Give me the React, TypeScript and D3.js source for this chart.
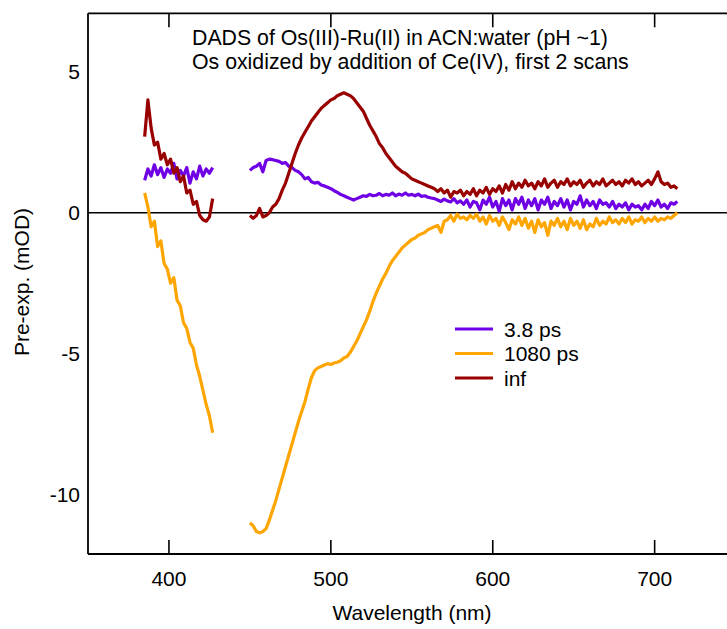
import React from "react";
import * as d3 from "d3";

// ---- data ----
const titleLines = [
  "DADS of Os(III)-Ru(II) in ACN:water (pH ~1)",
  "Os oxidized by addition of Ce(IV), first 2 scans",
];
const xTicks = [400, 500, 600, 700];
const yTicks = [5, 0, -5, -10];
const seriesNames = ["3.8 ps", "1080 ps", "inf"];
const seriesColors = ["#6F00E6", "#FFA500", "#990000"];

// wavelength grids (nm) of the two measured windows
const wlA = d3.range(385, 428, 2);
const wlB = d3.range(450, 715, 2);

const purpleA = [1.15, 1.55, 1.3, 1.7, 1.35, 1.6, 1.25, 1.55, 1.4, 1.75, 1.2, 1.5, 1.3, 1.6, 1.05, 1.45, 1.2, 1.65, 1.3, 1.55, 1.4, 1.6];
const purpleB = [
  1.5, 1.6, 1.65, 1.75, 1.45, 1.85, 1.9, 1.88, 1.85, 1.82,
  1.75, 1.78, 1.65, 1.6, 1.5, 1.45, 1.35, 1.2, 1.25, 1.1,
  1.05, 1.08, 0.98, 0.95, 0.9, 0.85, 0.78, 0.72, 0.65, 0.6,
  0.55, 0.5, 0.45, 0.5, 0.55, 0.6, 0.58, 0.65, 0.6, 0.62,
  0.68, 0.6, 0.65, 0.62, 0.7, 0.6, 0.66, 0.62, 0.7, 0.62,
  0.65, 0.6, 0.66, 0.58, 0.6, 0.55, 0.52, 0.5, 0.45, 0.4,
  0.48, 0.42, 0.38, 0.5, 0.35, 0.42, 0.3, 0.45, 0.2, 0.4,
  0.35, 0.1, 0.45, 0.3, 0.55, 0.2, 0.4, 0.05, 0.5, 0.25,
  0.45, 0.1, 0.5, 0.3, 0.55, 0.15, 0.45, 0.25, 0.5, 0.1,
  0.45, 0.3, 0.55, 0.15, 0.4, 0.25, 0.5, 0.2, 0.45, 0.1,
  0.4, 0.3, 0.6, 0.2, 0.45, 0.25, 0.4, 0.15, 0.45, 0.3,
  0.35, 0.2, 0.4, 0.15, 0.3, 0.2, 0.35, 0.1, 0.3, 0.2,
  0.25, 0.1, 0.3, 0.15, 0.4, 0.25, 0.45, 0.2, 0.3, 0.15,
  0.35, 0.3, 0.4,
];

const orangeA = [0.7, 0.2, -0.5, -0.3, -1.2, -1.0, -1.8, -2.0, -2.5, -2.3, -3.1, -3.3, -3.9, -4.1, -4.6, -4.8, -5.4, -5.8, -6.3, -6.8, -7.2, -7.8];
const orangeB = [
  -11.0, -11.1, -11.3, -11.35, -11.3, -11.2, -10.9, -10.55, -10.2, -9.8,
  -9.4, -9.0, -8.6, -8.2, -7.8, -7.4, -7.05, -6.7, -6.25, -5.85,
  -5.6, -5.5, -5.45, -5.4, -5.35, -5.38, -5.33, -5.3, -5.25, -5.15,
  -5.1, -4.95, -4.75, -4.55, -4.3, -4.05, -3.8, -3.5, -3.15, -2.85,
  -2.6, -2.35, -2.15, -1.9, -1.7, -1.55, -1.4, -1.25, -1.15, -1.05,
  -0.95, -0.9, -0.8, -0.75, -0.7, -0.6, -0.55, -0.5, -0.45, -0.7,
  -0.3, -0.25, -0.1, -0.3, -0.05, -0.2, -0.15, -0.25, -0.1, -0.2,
  -0.05, -0.3, -0.15, -0.4, -0.1, -0.3, -0.2, -0.45, -0.15, -0.35,
  -0.6, -0.25, -0.4, -0.15, -0.45, -0.2, -0.55, -0.3, -0.7, -0.25,
  -0.5, -0.35, -0.8, -0.3, -0.45, -0.2, -0.5, -0.3, -0.6, -0.2,
  -0.45, -0.3, -0.55, -0.25, -0.6, -0.4, -0.5, -0.2, -0.45, -0.3,
  -0.4, -0.15, -0.35, -0.25, -0.4, -0.2, -0.35, -0.15, -0.4, -0.25,
  -0.3, -0.15, -0.35, -0.2, -0.3, -0.15, -0.3, -0.2, -0.25, -0.15,
  -0.2, -0.1, 0.0,
];

const redA = [2.7, 4.0, 3.0, 2.4, 2.5, 1.9, 2.1, 1.7, 1.9, 1.4, 1.6, 1.1, 1.3, 0.7, 0.8, 0.3, 0.4, -0.1, -0.25, -0.3, -0.15, 0.5];
const redB = [
  -0.1, -0.2, -0.1, 0.15, -0.15, -0.1, 0.0, 0.2, 0.3, 0.5,
  0.8, 1.05, 1.4, 1.75, 2.1, 2.4, 2.65, 2.85, 3.05, 3.25,
  3.4, 3.55, 3.7, 3.8, 3.9, 4.0, 4.05, 4.15, 4.2, 4.25,
  4.2, 4.15, 4.05, 3.9, 3.75, 3.6, 3.35, 3.1, 2.9, 2.7,
  2.45, 2.3, 2.1, 1.95, 1.8, 1.65, 1.55, 1.45, 1.4, 1.3,
  1.2, 1.15, 1.1, 1.05, 1.0, 0.95, 0.9, 0.85, 0.75, 0.85,
  0.7, 0.8, 0.55, 0.75, 0.7, 0.8, 0.6, 0.75, 0.65, 0.85,
  0.6, 0.8, 0.7, 0.9, 0.65, 0.85, 0.75, 0.95, 0.7, 1.0,
  0.8, 1.1, 0.85, 1.05, 0.9, 1.15, 0.95, 1.05, 0.85, 1.1,
  0.95, 1.2, 0.9, 1.05, 1.15, 0.9, 1.1, 1.0, 1.2, 0.95,
  1.1, 1.0, 1.15, 0.9, 1.05, 1.15, 0.95, 1.1, 1.0, 1.2,
  0.95, 1.05, 1.15, 1.0, 1.1, 0.95, 1.15, 1.05, 1.2, 1.0,
  1.1, 0.95, 1.05, 1.15, 1.0, 1.2, 1.45, 1.1, 1.0, 1.05,
  0.9, 0.95, 0.85,
];

const seriesSegments = [
  [purpleA, purpleB],
  [orangeA, orangeB],
  [redA, redB],
];

const W = 727;
const H = 629;
const FONT = "'Liberation Sans', Arial, sans-serif";

export default function App() {
  const x = d3.scaleLinear().domain([350, 750]).range([88, 735.6]);
  const y = d3.scaleLinear().domain([-12.1, 7.07]).range([554, 13.3]);
  const line = d3
    .line<[number, number]>()
    .x((d) => x(d[0]))
    .y((d) => y(d[1]));

  const grids = [wlA, wlB];
  const legendX = 455;
  const legendY0 = 329;
  const legendDy = 24.5;

  return (
    <svg
      width={W}
      height={H}
      style={{ position: "absolute", left: 0, top: 0, background: "#fff" }}
      fontFamily={FONT}
    >
      <rect x={0} y={0} width={W} height={H} fill="#fff" />
      {/* frame */}
      <line x1={x(350)} x2={x(750)} y1={y(7.07)} y2={y(7.07)} stroke="#000" strokeWidth={1.8} />
      <line x1={x(350)} x2={x(750)} y1={y(-12.1)} y2={y(-12.1)} stroke="#000" strokeWidth={1.8} />
      <line x1={x(350)} x2={x(350)} y1={y(7.07)} y2={y(-12.1)} stroke="#000" strokeWidth={1.8} />
      {/* zero line */}
      <line x1={x(350)} x2={x(750)} y1={y(0)} y2={y(0)} stroke="#000" strokeWidth={1.6} />
      {/* x ticks top and bottom */}
      {xTicks.map((t) => (
        <g key={"xt" + t}>
          <line x1={x(t)} x2={x(t)} y1={y(-12.1)} y2={y(-12.1) - 14} stroke="#000" strokeWidth={1.6} />
          <line x1={x(t)} x2={x(t)} y1={y(7.07)} y2={y(7.07) + 14} stroke="#000" strokeWidth={1.6} />
          <text x={x(t)} y={586} textAnchor="middle" fontSize={21} fill="#000">
            {t}
          </text>
        </g>
      ))}
      {yTicks.map((t) => (
        <text key={"yt" + t} x={80} y={y(t) + 7.5} textAnchor="end" fontSize={21} fill="#000">
          {t}
        </text>
      ))}
      {/* axis titles */}
      <text x={412} y={620} textAnchor="middle" fontSize={21} fill="#000">
        Wavelength (nm)
      </text>
      <text
        transform={`translate(29, 282) rotate(-90)`}
        textAnchor="middle"
        fontSize={21}
        fill="#000"
      >
        Pre-exp. (mOD)
      </text>
      {/* title */}
      {titleLines.map((s, i) => (
        <text key={"tl" + i} x={192} y={44.5 + i * 24} fontSize={21.3} fill="#000">
          {s}
        </text>
      ))}
      {/* series */}
      {seriesSegments.map((segs, si) =>
        segs.map((vals, gi) => (
          <path
            key={`s${si}-${gi}`}
            d={line(grids[gi].map((w, k) => [w, vals[k]] as [number, number])) || ""}
            fill="none"
            stroke={seriesColors[si]}
            strokeWidth={3.2}
            strokeLinejoin="round"
          />
        ))
      )}
      {/* legend */}
      {seriesNames.map((n, i) => (
        <g key={"lg" + i}>
          <line
            x1={legendX}
            x2={legendX + 38}
            y1={legendY0 + i * legendDy}
            y2={legendY0 + i * legendDy}
            stroke={seriesColors[i]}
            strokeWidth={3.2}
          />
          <text x={504} y={legendY0 + i * legendDy + 7.5} fontSize={21} fill="#000">
            {n}
          </text>
        </g>
      ))}
    </svg>
  );
}
